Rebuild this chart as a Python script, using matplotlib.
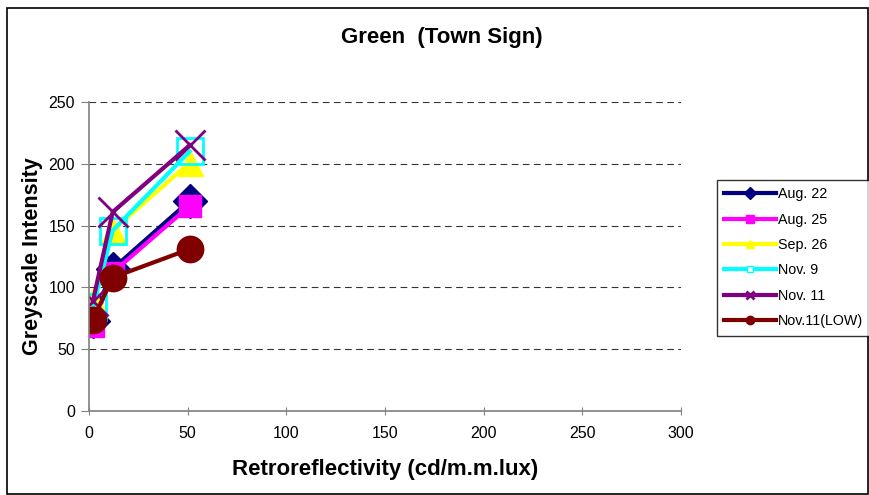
import matplotlib
matplotlib.use("Agg")
import matplotlib.pyplot as plt
from matplotlib.patches import Rectangle

plt.rcParams['font.family'] = ['Liberation Sans', 'DejaVu Sans']

retro = [2, 12, 51]
series_names = ["Aug. 22", "Aug. 25", "Sep. 26", "Nov. 9", "Nov. 11", "Nov.11(LOW)"]
aug22 = [73, 115, 170]
aug25 = [69, 112, 166]
sep26 = [90, 146, 201]
nov9 = [84, 146, 210]
nov11 = [89, 161, 215]
nov11_low = [74, 108, 131]
x_ticks = [0, 50, 100, 150, 200, 250, 300]
y_ticks = [0, 50, 100, 150, 200, 250]

series = [aug22, aug25, sep26, nov9, nov11, nov11_low]
colors = ["#000080", "#FF00FF", "#FFFF00", "#00FFFF", "#800080", "#800000"]
markers = ["D", "s", "^", "s", "x", "o"]
msizes = [17, 16, 18, 19, 21, 19]

fig = plt.figure(figsize=(8.7, 4.95), dpi=100)
fig.patches.append(Rectangle((7/870, 1/495), 861/870, 486/495, transform=fig.transFigure,
                             fill=False, edgecolor="black", linewidth=1.2))
ax = fig.add_axes([89/870, 1 - 411/495, 592/870, 309/495])

for vals, name, c, m, ms in zip(series, series_names, colors, markers, msizes):
    if c == "#00FFFF":
        ax.plot(retro, vals, color=c, linewidth=3, marker=m, markersize=ms,
                markerfacecolor="none", markeredgecolor=c, markeredgewidth=2)
    elif m == "x":
        ax.plot(retro, vals, color=c, linewidth=3, marker=m, markersize=ms,
                markeredgewidth=2)
    else:
        ax.plot(retro, vals, color=c, linewidth=3, marker=m, markersize=ms)

ax.set_xlim(0, 300)
ax.set_ylim(0, 250)
ax.set_xticks(x_ticks)
ax.set_yticks(y_ticks)
ax.yaxis.grid(True, linestyle=(0, (6, 4)), color="#333333", linewidth=0.8)
ax.set_axisbelow(True)
for s in ["top", "right"]:
    ax.spines[s].set_visible(False)
for s in ["left", "bottom"]:
    ax.spines[s].set_color("#808080")
    ax.spines[s].set_linewidth(1.2)
ax.tick_params(axis="y", direction="out", length=6, color="#808080", labelsize=11.5, pad=4)
ax.tick_params(axis="x", direction="inout", length=6, color="#808080", labelsize=11.5, pad=8)

ax.set_xlabel("Retroreflectivity (cd/m.m.lux)", fontsize=16, fontweight="bold", labelpad=13)
ax.set_ylabel("Greyscale Intensity", fontsize=15.5, fontweight="bold", labelpad=4)
fig.text(442/870, 1 - 38/495, "Green  (Town Sign)", ha="center", va="center",
         fontsize=16, fontweight="bold")

leg_handles = []
for c, m in zip(colors, markers):
    if c == "#00FFFF":
        h, = ax.plot([], [], color=c, linewidth=3, marker=m, markersize=5,
                     markerfacecolor="white", markeredgecolor=c)
    elif m == "x":
        h, = ax.plot([], [], color=c, linewidth=3, marker=m, markersize=6, markeredgewidth=2)
    else:
        h, = ax.plot([], [], color=c, linewidth=3, marker=m, markersize=6)
    leg_handles.append(h)
leg = fig.legend(leg_handles, series_names, loc="upper left",
                 bbox_to_anchor=(717/870, 1 - 180/495), fontsize=10.3,
                 frameon=True, fancybox=False, edgecolor="black",
                 handlelength=3.6, handletextpad=0.15, labelspacing=0.8,
                 borderpad=0.5, borderaxespad=0)
leg.get_frame().set_linewidth(1.0)

fig.savefig("out.png", dpi=100)
